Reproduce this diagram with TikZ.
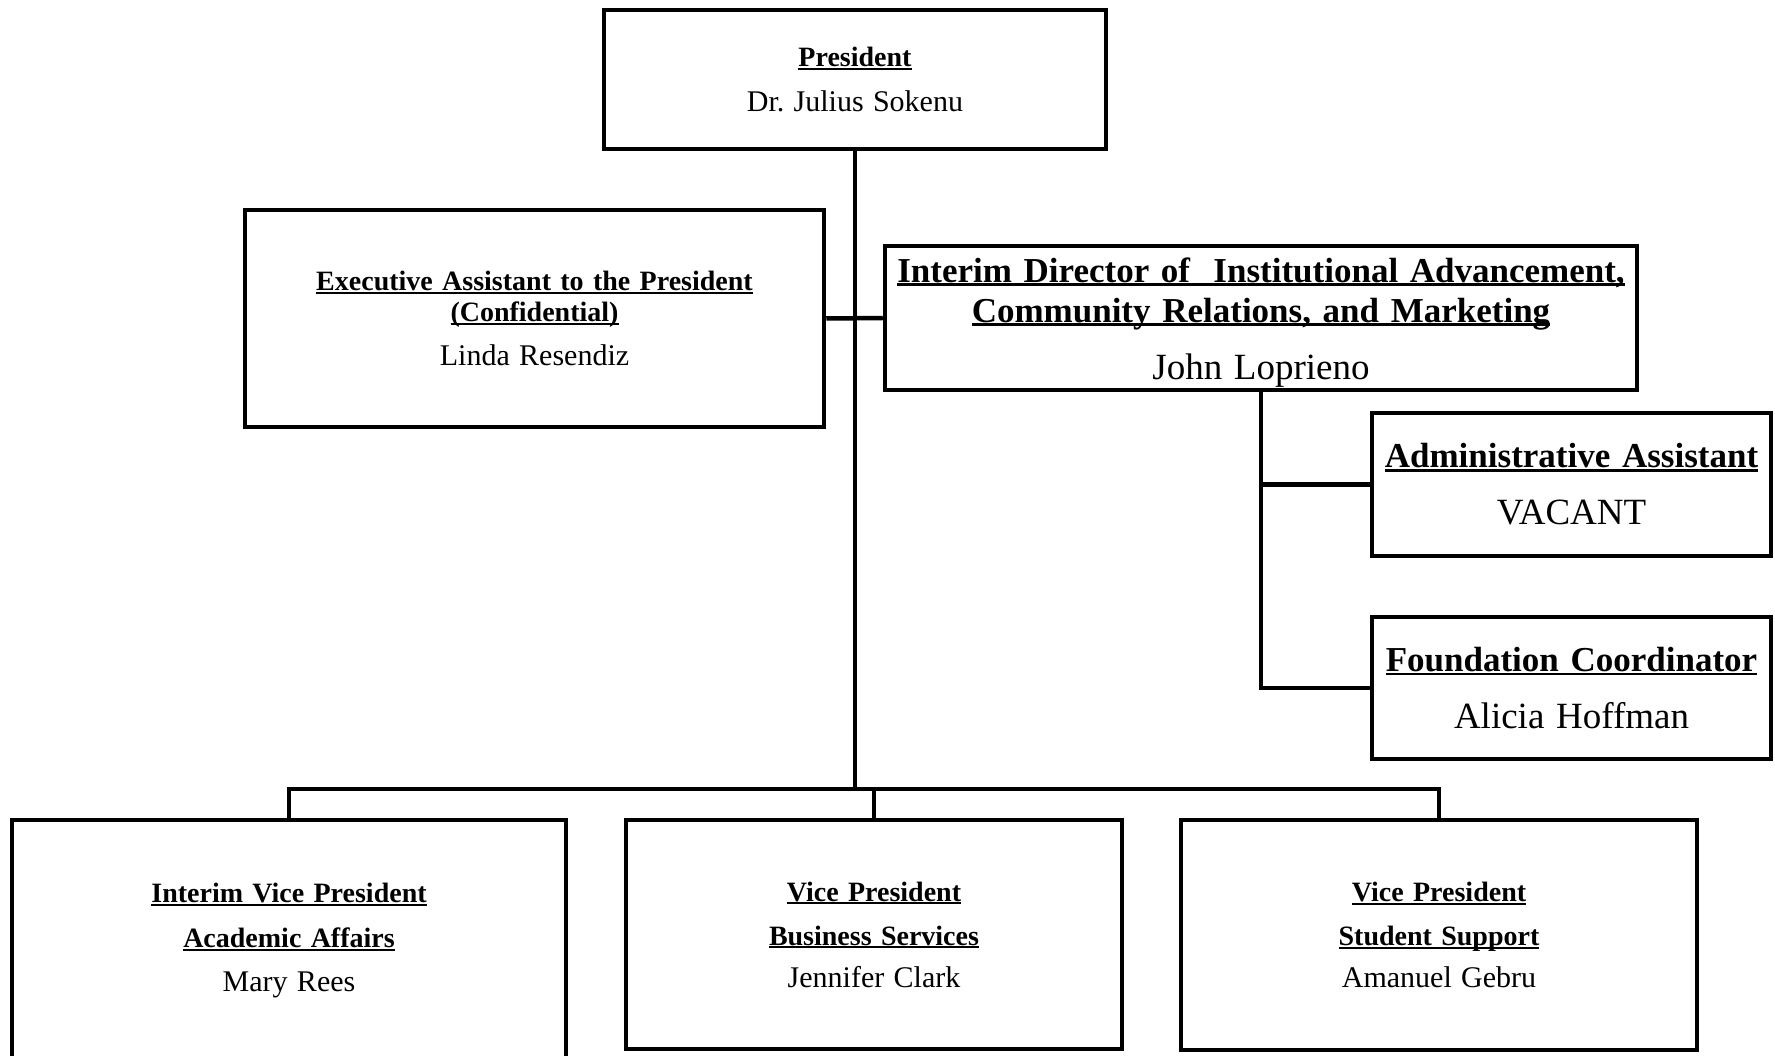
\documentclass[tikz,border=0pt]{standalone}
\usepackage{fontspec}
\setmainfont{Liberation Serif}
\frenchspacing
\newcommand\hd[1]{\textbf{\setbox0\hbox{#1}\rlap{\rule[-0.11em]{\wd0}{0.07em}}\box0}}
\newcommand\sm{\fontsize{28}{31}\selectfont}
\newcommand\smname{\fontsize{30}{31}\selectfont}
\newcommand\bg{\fontsize{35}{40}\selectfont}
\newcommand\bgname{\fontsize{37}{40}\selectfont}
\begin{document}
\begin{tikzpicture}[x=1pt,y=-1pt,
  box/.style={draw, line width=4.5pt, inner sep=0pt, align=center},
  conn/.style={line width=4.5pt}]
\useasboundingbox (0,0) rectangle (1775,1056);
\fill[white] (0,0) rectangle (1775,1056);
\clip (0,0) rectangle (1775,1056);

\node[box, minimum width=502pt, minimum height=139pt, text width=480pt, font=\sm] (pres) at (855,79.5)
  {\hd{President}\\[14pt]{\smname Dr. Julius Sokenu}};

\node[box, minimum width=579pt, minimum height=217pt, text width=560pt, font=\sm] (exec) at (534.5,318.5)
  {\hd{Executive Assistant to the President}\\\hd{(Confidential)}\\[13pt]{\smname Linda Resendiz}};

\node[box, minimum width=752pt, minimum height=144pt, text width=745pt, font=\bg] (interim) at (1261,318)
  {\rule{0pt}{33pt}\hd{Interim Director of\ \ Institutional Advancement,}\\\hd{Community Relations, and Marketing}\\[17pt]{\bgname John Loprieno}};

\node[box, minimum width=399pt, minimum height=143pt, text width=390pt, font=\bg] (admin) at (1571.5,484.5)
  {\hd{Administrative Assistant}\\[17pt]{\bgname VACANT}};

\node[box, minimum width=399pt, minimum height=142pt, text width=390pt, font=\bg] (found) at (1571.5,688)
  {\hd{Foundation Coordinator}\\[17pt]{\bgname Alicia Hoffman}};

\node[box, minimum width=554pt, minimum height=242pt, text width=530pt, font=\sm] (vpa) at (289,941)
  {\hd{Interim Vice President}\\[14pt]\hd{Academic Affairs}\\[13pt]{\smname Mary Rees}};

\node[box, minimum width=496pt, minimum height=229pt, text width=470pt, font=\sm] (vpb) at (874,934.5)
  {\hd{Vice President}\\[13pt]\hd{Business Services}\\[11pt]{\smname Jennifer Clark}};

\node[box, minimum width=516pt, minimum height=230pt, text width=490pt, font=\sm] (vps) at (1439,935)
  {\hd{Vice President}\\[13pt]\hd{Student Support}\\[11pt]{\smname Amanuel Gebru}};

\coordinate (bus) at (0,789);

% connectors
\draw[conn] (pres.south) -- (pres.south |- bus);
\draw[conn] (exec.east) -- (interim.west);
\draw[conn] (vpa.north) -- (vpa.north |- bus) -- (vps.north |- bus) -- (vps.north);
\draw[conn] (vpb.north) -- (vpb.north |- bus);
\draw[conn] (interim.south) |- (found.west);
\draw[conn] (interim.south |- admin.west) -- (admin.west);
\end{tikzpicture}
\end{document}
